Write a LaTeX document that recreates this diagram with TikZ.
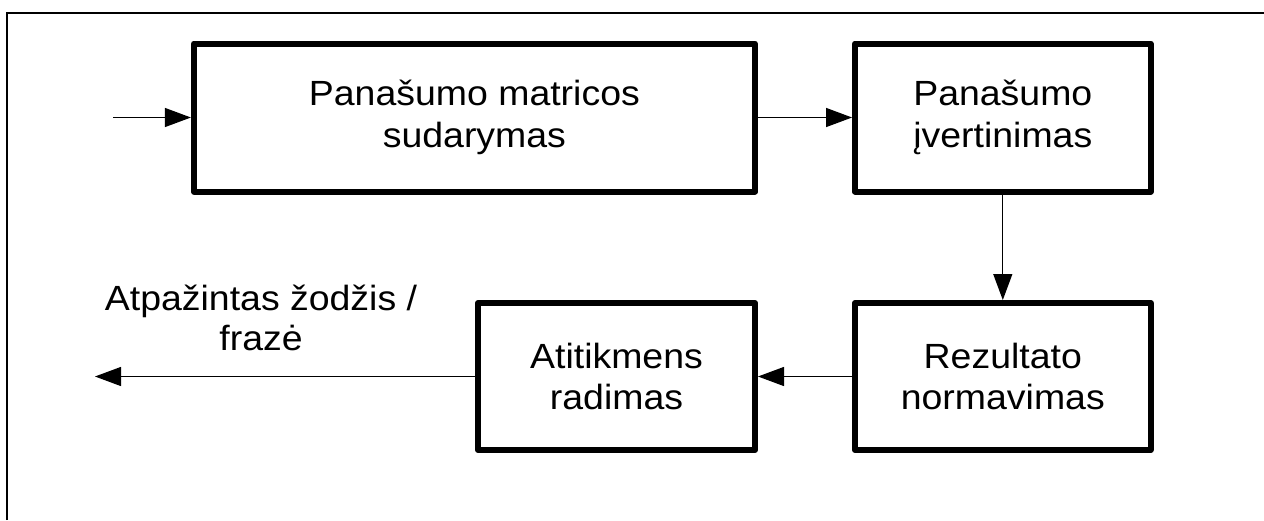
\documentclass[tikz,border=0pt]{standalone}
\usepackage{fontspec}
\setmainfont{Liberation Sans}[FakeStretch=1.07]
\usetikzlibrary{arrows.meta}
\begin{document}
\begin{tikzpicture}[x=1pt,y=-1pt,
  blk/.style={draw, line width=6pt, line join=round, rectangle, inner sep=0pt,
    align=center, font=\fontsize{35}{41.5}\selectfont},
  conn/.style={line width=1.3pt, -{Triangle[length=26pt,width=19pt]}},
  frame/.style={line width=1.4pt},
  lbl/.style={align=center, font=\fontsize{35}{40}\selectfont}]
\useasboundingbox (0,0) rectangle (1264,520);
% outer frame (top and left edges only)
\coordinate (fa) at (7,520);
\coordinate (fb) at (7,13);
\coordinate (fc) at (1264,13);
\draw[frame] (fa) -- (fb) -- (fc);
% blocks
\node[blk, minimum width=561pt, minimum height=148pt] (b1) at (474.4,117.5) {Panašumo matricos\\sudarymas};
\node[blk, minimum width=295.5pt, minimum height=148pt] (b2) at (1002.8,117.5) {Panašumo\\įvertinimas};
\node[blk, minimum width=295.5pt, minimum height=147pt] (b3) at (1002.8,376.5) {Rezultato\\normavimas};
\node[blk, minimum width=277pt, minimum height=147pt] (b4) at (616.5,376.5) {Atitikmens\\radimas};
\node[lbl] (out) at (261,318) {Atpažintas žodžis /\\frazė};
% connectors
\coordinate (in) at (113,117.5);
\coordinate (outend) at (95,376.5);
\draw[conn] (in) -- (b1);
\draw[conn] (b1) -- (b2);
\draw[conn] (b2) -- (b3);
\draw[conn] (b3) -- (b4);
\draw[conn] (b4) -- (outend);
\end{tikzpicture}
\end{document}
